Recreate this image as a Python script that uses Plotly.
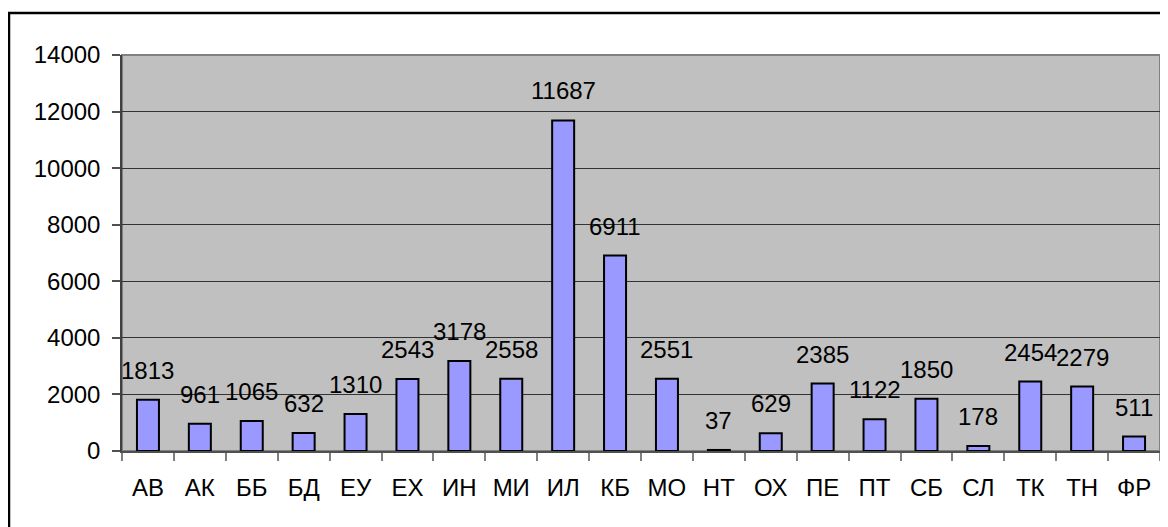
import plotly.graph_objects as go

categories = ["АВ", "АК", "ББ", "БД", "ЕУ", "ЕХ", "ИН", "МИ", "ИЛ", "КБ",
              "МО", "НТ", "ОХ", "ПЕ", "ПТ", "СБ", "СЛ", "ТК", "ТН", "ФР"]
values = [1813, 961, 1065, 632, 1310, 2543, 3178, 2558, 11687, 6911,
          2551, 37, 629, 2385, 1122, 1850, 178, 2454, 2279, 511]
y_ticks = [0, 2000, 4000, 6000, 8000, 10000, 12000, 14000]
y_tick_labels = ["0", "2000", "4000", "6000", "8000", "10000", "12000", "14000"]

FONT = "Liberation Sans, Arial, sans-serif"

fig = go.Figure()
fig.add_trace(go.Bar(
    x=categories, y=values,
    marker=dict(color="#9999FF", line=dict(color="#000000", width=2)),
    hoverinfo="x+y",
))

for c, v in zip(categories, values):
    fig.add_annotation(x=c, y=v, text=str(v), showarrow=False,
                       xanchor="center", yanchor="bottom", yshift=14,
                       font=dict(family=FONT, size=24, color="#000000"))

# page body has an 8px margin, so the figure starts at (8, 8) in the window
W, H = 1160, 519
L, R, T, B = 114, 8, 47, 76
pw, ph = W - L - R, H - T - B

# outer chart border (window x=8, y=13 -> figure x=0..1, y=5)
fig.add_shape(type="rect", xref="paper", yref="paper",
              x0=(1 - L) / pw, x1=(W + 10 - L) / pw,
              y0=(H - B - (H + 10)) / ph, y1=(H - B - 5) / ph,
              line=dict(color="#000000", width=2.5), fillcolor="rgba(0,0,0,0)",
              layer="above")
# plot area border
fig.add_shape(type="rect", xref="paper", yref="paper", x0=0, x1=1, y0=0, y1=1,
              line=dict(color="#808080", width=2), fillcolor="rgba(0,0,0,0)",
              layer="below")

fig.update_layout(
    width=W, height=H,
    margin=dict(l=L, r=R, t=T, b=B),
    paper_bgcolor="#FFFFFF",
    plot_bgcolor="#C0C0C0",
    bargap=0.576,
    showlegend=False,
    font=dict(family=FONT, size=24, color="#000000"),
    xaxis=dict(
        type="category",
        tickson="boundaries",
        ticks="outside", ticklen=8, tickcolor="#808080", tickwidth=1.5,
        showline=True, linecolor="#505050", linewidth=1.5,
        showgrid=False,
        tickfont=dict(family=FONT, size=24, color="#000000"),
        ticklabelstandoff=14,
        range=[-0.5, len(categories) - 0.5],
    ),
    yaxis=dict(
        range=[0, 14000],
        tickvals=y_ticks, ticktext=y_tick_labels,
        ticks="outside", ticklen=8, tickcolor="#505050", tickwidth=1.5,
        showline=True, linecolor="#404040", linewidth=1.5,
        showgrid=True, gridcolor="#333333", gridwidth=1,
        zeroline=False,
        tickfont=dict(family=FONT, size=24, color="#000000"),
        ticklabelstandoff=7,
    ),
)

fig.write_html("out.html")
